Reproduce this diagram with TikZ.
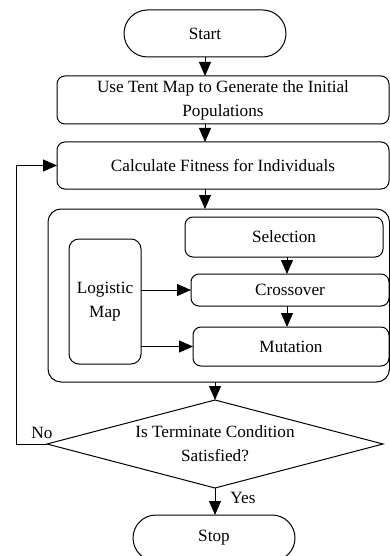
\documentclass[tikz,border=0pt]{standalone}
\usepackage{fontspec}
\setmainfont{Liberation Serif}
\usepackage{tikz}
\usetikzlibrary{arrows.meta, positioning, shapes.geometric, shapes.misc}

\begin{document}
\begin{tikzpicture}[
        x=1pt, y=-1pt,
        font=\fontsize{17.2}{24}\selectfont,
        every node/.style={align=center, outer sep=0pt},
        % Terminales (inicio/fin) y cajas de proceso
        term/.style={rounded rectangle, draw, line width=1pt,
                     minimum width=162pt, minimum height=47pt, inner sep=0pt},
        proc/.style={rectangle, rounded corners=8pt, draw, line width=1pt,
                     inner sep=0pt},
        group/.style={rectangle, rounded corners=13pt, draw, line width=1pt,
                      minimum width=341.5pt, minimum height=173pt, inner sep=0pt},
        decision/.style={diamond, draw, line width=1pt, aspect=3.8,
                         minimum width=336pt, minimum height=88pt, inner sep=0pt},
        flow/.style={-{Triangle[length=14pt, width=12pt]}, draw, line width=1pt},
        lbl/.style={inner sep=0pt}
    ]
        \useasboundingbox (0,0) rectangle (390,556);

        \node[term] (start) at (205,33.5) {Start};
        \node[proc, minimum width=332pt, minimum height=48pt] (init) at (223,100)
            {Use Tent Map to Generate the Initial\\Populations};
        \node[proc, minimum width=332pt, minimum height=47pt] (fit) at (223,165.5)
            {Calculate Fitness for Individuals};

        % Bloque de operadores genéticos
        \node[group] (ga) at (218.75,295.5) {};
        \node[proc, minimum width=198pt, minimum height=40pt] (sel) at (284,237) {Selection};
        \node[proc, minimum width=198pt, minimum height=32pt] (cro) at (290,290) {Crossover};
        \node[proc, minimum width=196pt, minimum height=39pt] (mut) at (291,346.5) {Mutation};
        \node[proc, rounded corners=10pt, minimum width=72pt, minimum height=125pt] (logi) at (105,301.5)
            {Logistic\\Map};

        \node[decision] (cond) at (215,444) {Is Terminate Condition\\Satisfied?};
        \node[term, minimum height=46pt] (stop) at (214,538) {Stop};

        \coordinate (loop) at (16,444);

        \draw[flow] (start.south) -- (start.south |- init.north);
        \draw[flow] (init.south -| start.south) -- (fit.north -| start.south);
        \draw[flow] (fit.south -| start.south) -- (ga.north -| start.south);
        \draw[flow] ([xshift=3pt]sel.south) -- ([xshift=3pt]sel.south |- cro.north);
        \draw[flow] ([xshift=-3pt]cro.south) -- ([xshift=-3pt]cro.south |- mut.north);
        \draw[flow] (logi.east |- cro.west) -- (cro.west);
        \draw[flow] (logi.east |- mut.west) -- (mut.west);
        \draw[flow] (ga.south -| cond.north) -- (cond.north);
        \draw[flow] (cond.south) -- (cond.south |- stop.north);
        \draw[flow] (cond.west) -- (loop) |- (fit.west);

        \node[lbl] (no) at (42,433) {No};
        \node[lbl] (yes) at (243,498) {Yes};
    \end{tikzpicture}
\end{document}
